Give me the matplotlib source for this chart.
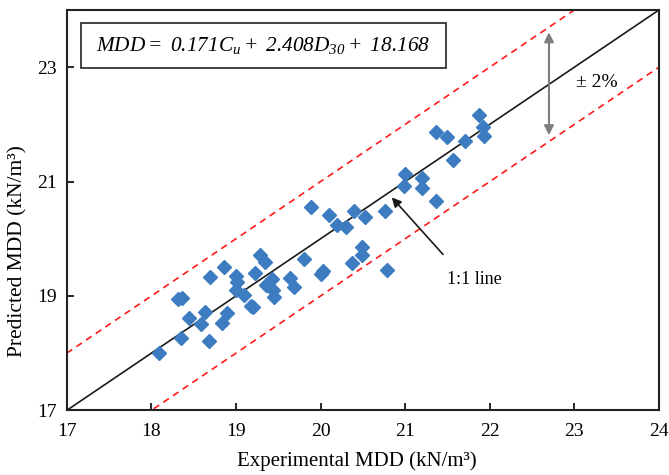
import matplotlib
matplotlib.use("Agg")
import matplotlib.pyplot as plt
from matplotlib.patches import Rectangle

# Data (Experimental vs Predicted MDD, kN/m3)
experimental = [18.09, 18.35, 18.68, 18.44, 18.59, 18.63, 18.84, 18.90, 18.31, 18.36,
                18.69, 18.86, 19.00, 19.01, 19.00, 19.09, 19.18, 19.20, 19.23, 19.29,
                19.34, 19.35, 19.43, 19.44, 19.45, 19.64, 19.69, 19.80, 19.89, 20.00,
                20.03, 20.10, 20.19, 20.30, 20.37, 20.40, 20.49, 20.49, 20.53, 20.76,
                20.78, 21.00, 20.99, 21.20, 21.20, 21.36, 21.57, 21.36, 21.49, 21.71,
                21.87, 21.92, 21.93]
predicted = [18.01, 18.26, 18.22, 18.61, 18.51, 18.72, 18.52, 18.71, 18.94, 18.97,
             19.33, 19.51, 19.35, 19.25, 19.11, 19.01, 18.82, 18.80, 19.40, 19.71,
             19.60, 19.19, 19.29, 19.11, 18.98, 19.31, 19.15, 19.64, 20.55, 19.38,
             19.44, 20.41, 20.24, 20.20, 19.58, 20.49, 19.86, 19.71, 20.38, 20.49,
             19.46, 21.14, 20.92, 21.07, 20.89, 20.66, 21.38, 21.86, 21.78, 21.71,
             22.17, 21.95, 21.79]

axis_min, axis_max = 17, 24
band = 1.0
x_ticks = [17, 18, 19, 20, 21, 22, 23, 24]
y_ticks = [17, 19, 21, 23]
equation = r'$MDD=\ 0.171C_u+\ 2.408D_{30}+\ 18.168$'

plt.rcParams['font.family'] = ['Liberation Serif', 'DejaVu Serif']
plt.rcParams['mathtext.fontset'] = 'custom'
plt.rcParams['mathtext.rm'] = 'Liberation Serif:italic'
plt.rcParams['mathtext.it'] = 'Liberation Serif:italic'
plt.rcParams['mathtext.bf'] = 'Liberation Serif:bold'
plt.rcParams['mathtext.default'] = 'it'

fig = plt.figure(figsize=(6.69, 4.75), dpi=100)
ax = fig.add_axes([0.0997, 0.136, 0.8853, 0.843])

line_x = [axis_min, axis_max]
ax.plot(line_x, line_x, color='#1a1a1a', lw=1.2, zorder=2)
ax.plot(line_x, [v + band for v in line_x], color='#ff1a1a', lw=1.2,
        ls=(0, (4, 3)), zorder=2)
ax.plot(line_x, [v - band for v in line_x], color='#ff1a1a', lw=1.2,
        ls=(0, (4, 3)), zorder=2)

ax.plot(experimental, predicted, ls='none', marker='D', ms=7.5,
        color='#3d7cc0', mec='#3d7cc0', zorder=3)

ax.set_xlim(axis_min, axis_max)
ax.set_ylim(axis_min, axis_max)
ax.set_xticks(x_ticks)
ax.set_yticks(y_ticks)
ax.tick_params(direction='in', length=5, width=1.2, labelsize=14, pad=9,
               top=False, right=False)
ax.tick_params(axis='y', pad=7)
for s in ax.spines.values():
    s.set_linewidth(1.5)
    s.set_color('#222222')

ax.set_xlabel('Experimental MDD (kN/m³)', fontsize=15)
ax.set_ylabel('Predicted MDD (kN/m³)', fontsize=15.5)
ax.xaxis.set_label_coords(0.489, -0.103)
ax.yaxis.set_label_coords(-0.067, 0.398)

# equation box
ax.add_patch(Rectangle((0.0236, 0.856), 0.6164, 0.112, transform=ax.transAxes,
                       fill=False, lw=1.2, ec='#222222', zorder=4))
ax.text(0.332, 0.912, equation, transform=ax.transAxes, ha='center', va='center',
        fontsize=15.3, zorder=5)

# 1:1 line annotation
ax.annotate('', xy=(20.82, 20.76), xytext=(21.47, 19.69),
            arrowprops=dict(arrowstyle='-|>', color='#1a1a1a', lw=1.2,
                            mutation_scale=14))
ax.text(21.49, 19.29, '1:1 line', fontsize=13, ha='left', va='center')

# +/- band annotation
ax.annotate('', xy=(22.70, 23.61), xytext=(22.70, 21.81),
            arrowprops=dict(arrowstyle='<|-|>', color='#7f7f7f', lw=1.5,
                            mutation_scale=14, shrinkA=0, shrinkB=0))
ax.text(23.02, 22.74, '± 2%', fontsize=14, ha='left', va='center')

fig.savefig('out.png', dpi=100)
